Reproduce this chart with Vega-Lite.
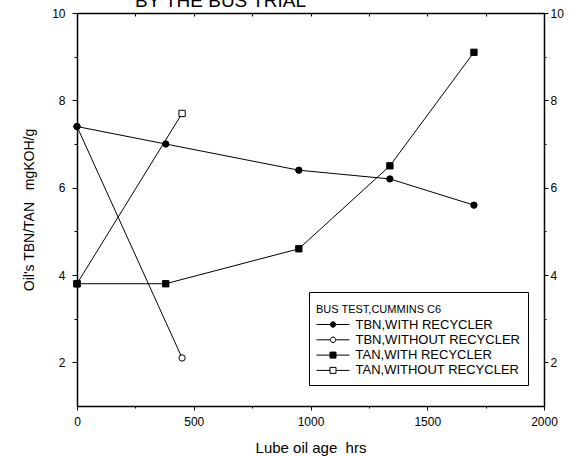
{
  "$schema": "https://vega.github.io/schema/vega-lite/v6.json",
  "width": 467,
  "height": 393,
  "autosize": {"type": "none"},
  "padding": {"left": 77, "top": 13, "right": 27, "bottom": 50},
  "background": "white",
  "config": {
    "font": "Liberation Sans",
    "view": {"stroke": null},
    "axis": {
      "grid": false,
      "domainColor": "black",
      "domainWidth": 1.5,
      "tickColor": "black",
      "tickWidth": 1,
      "labelColor": "black",
      "titleColor": "black",
      "labelFont": "Liberation Sans",
      "titleFont": "Liberation Sans",
      "labelFontSize": 12,
      "titleFontSize": 15,
      "titleFontWeight": "normal",
      "labelFlush": false,
      "labelOverlap": false
    }
  },
  "title": {
    "text": "BY THE BUS TRIAL",
    "anchor": "start",
    "frame": "group",
    "dx": 58,
    "offset": -19,
    "baseline": "alphabetic",
    "fontSize": 19,
    "fontWeight": "normal",
    "font": "Liberation Sans",
    "color": "black"
  },
  "data": {
    "values": [
      {"series": "TBN,WITHOUT RECYCLER", "hours": 0, "value": 7.4},
      {"series": "TBN,WITHOUT RECYCLER", "hours": 450, "value": 2.1},
      {"series": "TAN,WITHOUT RECYCLER", "hours": 0, "value": 3.8},
      {"series": "TAN,WITHOUT RECYCLER", "hours": 450, "value": 7.7},
      {"series": "TBN,WITH RECYCLER", "hours": 0, "value": 7.4},
      {"series": "TBN,WITH RECYCLER", "hours": 380, "value": 7.0},
      {"series": "TBN,WITH RECYCLER", "hours": 950, "value": 6.4},
      {"series": "TBN,WITH RECYCLER", "hours": 1340, "value": 6.2},
      {"series": "TBN,WITH RECYCLER", "hours": 1700, "value": 5.6},
      {"series": "TAN,WITH RECYCLER", "hours": 0, "value": 3.8},
      {"series": "TAN,WITH RECYCLER", "hours": 380, "value": 3.8},
      {"series": "TAN,WITH RECYCLER", "hours": 950, "value": 4.6},
      {"series": "TAN,WITH RECYCLER", "hours": 1340, "value": 6.5},
      {"series": "TAN,WITH RECYCLER", "hours": 1700, "value": 9.1}
    ]
  },
  "layer": [
    {
      "mark": {"type": "line", "strokeWidth": 1},
      "encoding": {
        "x": {
          "field": "hours",
          "type": "quantitative",
          "scale": {"domain": [0, 2000], "nice": false, "zero": false},
          "axis": {
            "orient": "bottom",
            "values": [0, 250, 500, 750, 1000, 1250, 1500, 1750, 2000],
            "format": "d",
            "labelExpr": "datum.value % 500 === 0 ? datum.label : ''",
            "tickSize": {"condition": {"test": "datum.value % 500 === 0", "value": 4}, "value": 2},
            "labelPadding": 6,
            "title": "Lube oil age\u00a0\u00a0hrs",
            "titleY": 46,
            "titleBaseline": "alphabetic"
          }
        },
        "y": {
          "field": "value",
          "type": "quantitative",
          "scale": {"domain": [1, 10], "nice": false, "zero": false},
          "axis": {
            "orient": "left",
            "values": [2, 3, 4, 5, 6, 7, 8, 9, 10],
            "labelExpr": "datum.value % 2 === 0 ? datum.label : ''",
            "tickSize": {"condition": {"test": "datum.value % 2 === 0", "value": 5}, "value": 3},
            "labelPadding": 7,
            "title": "Oil's TBN/TAN\u00a0\u00a0\u00a0mgKOH/g",
            "titleFontSize": 14,
            "titleX": -44,
            "titleBaseline": "alphabetic"
          }
        },
        "color": {
          "field": "series",
          "type": "nominal",
          "scale": {
            "domain": ["TBN,WITH RECYCLER", "TBN,WITHOUT RECYCLER", "TAN,WITH RECYCLER", "TAN,WITHOUT RECYCLER"],
            "range": ["black", "black", "black", "black"]
          },
          "legend": {
            "orient": "none",
            "legendX": 232,
            "legendY": 279,
            "title": "BUS TEST,CUMMINS C6",
            "titleFont": "Liberation Sans",
            "titleFontSize": 11,
            "titleFontWeight": "normal",
            "titleColor": "black",
            "titlePadding": 8,
            "labelFont": "Liberation Sans",
            "labelFontSize": 13,
            "labelColor": "black",
            "labelLimit": 0,
            "strokeColor": "black",
            "fillColor": "white",
            "padding": 7,
            "symbolSize": 36,
            "symbolOffset": 10.5,
            "labelOffset": 16,
            "rowPadding": 1.3,
            "symbolStrokeWidth": 1,
            "encoding": {
              "title": {"dy": {"value": 5}},
              "symbols": {
                "shape": {
                  "condition": {"test": "indexof(datum.value, 'TAN') === 0", "value": "M-5.5,0H-1M1,0H5.5M-1,-1H1V1H-1Z"},
                  "value": "M-5.5,0H-0.9M0.9,0H5.5M-0.9,0A0.9,0.9,0,1,0,0.9,0A0.9,0.9,0,1,0,-0.9,0Z"
                },
                "fill": {
                  "condition": {"test": "indexof(datum.value, 'WITHOUT') >= 0", "value": "white"},
                  "value": "black"
                },
                "strokeWidth": {"value": 1},
                "opacity": {"value": 1}
              }
            }
          }
        }
      }
    },
    {
      "mark": {"type": "point", "filled": true, "stroke": "black", "strokeWidth": 1, "size": 40, "opacity": 1},
      "encoding": {
        "x": {
          "field": "hours",
          "type": "quantitative",
          "axis": {
            "orient": "top",
            "values": [0, 250, 500, 750, 1000, 1250, 1500, 1750, 2000],
            "labels": false,
            "tickSize": -3,
            "title": null
          }
        },
        "y": {
          "field": "value",
          "type": "quantitative",
          "axis": {
            "orient": "right",
            "values": [2, 3, 4, 5, 6, 7, 8, 9, 10],
            "labelExpr": "datum.value % 2 === 0 ? datum.label : ''",
            "tickSize": {"condition": {"test": "datum.value % 2 === 0", "value": 4}, "value": 2},
            "labelPadding": 2,
            "title": null
          }
        },
        "shape": {
          "field": "series",
          "type": "nominal",
          "scale": {
            "domain": ["TBN,WITHOUT RECYCLER", "TBN,WITH RECYCLER", "TAN,WITHOUT RECYCLER", "TAN,WITH RECYCLER"],
            "range": ["circle", "circle", "square", "square"]
          },
          "legend": null
        },
        "fill": {
          "field": "series",
          "type": "nominal",
          "scale": {
            "domain": ["TAN,WITHOUT RECYCLER", "TBN,WITHOUT RECYCLER", "TAN,WITH RECYCLER", "TBN,WITH RECYCLER"],
            "range": ["white", "white", "black", "black"]
          },
          "legend": null
        }
      }
    }
  ],
  "resolve": {"axis": {"x": "independent", "y": "independent"}}
}
